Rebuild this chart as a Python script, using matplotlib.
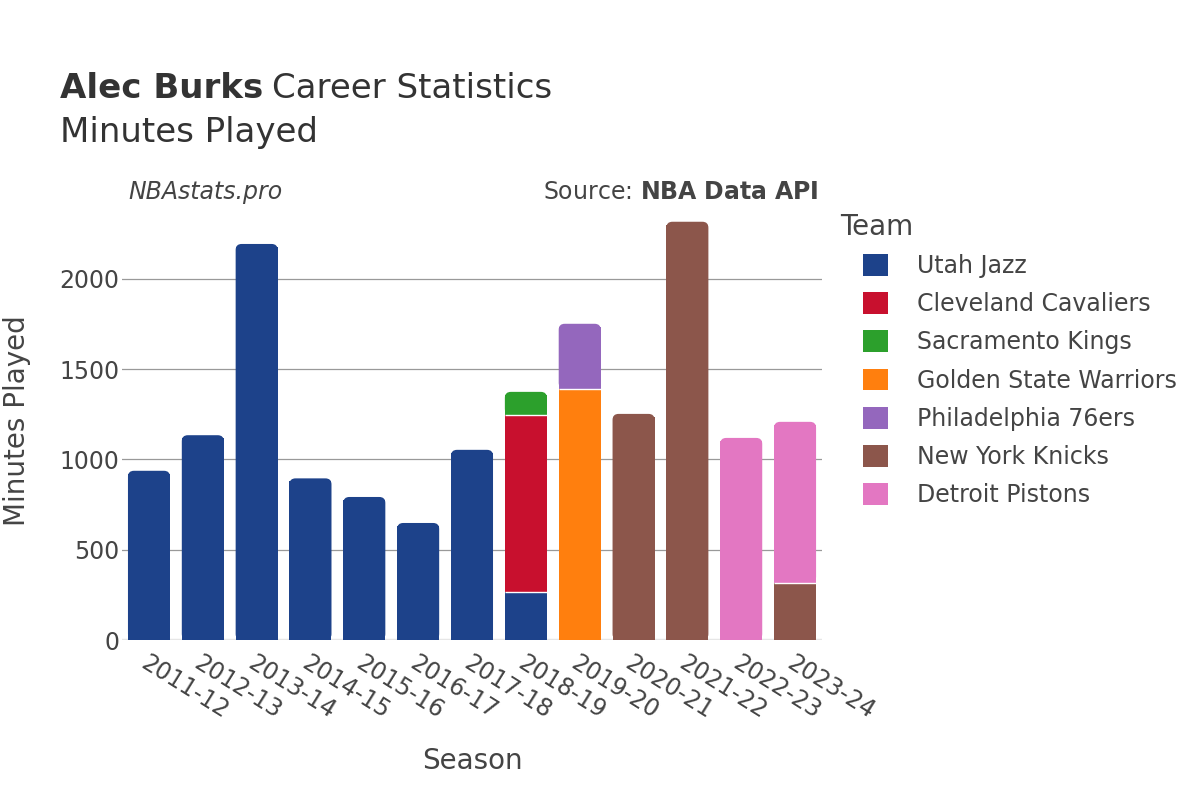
import matplotlib
matplotlib.use("Agg")
import matplotlib.pyplot as plt
from matplotlib.patches import FancyBboxPatch, Patch

seasons = ["2011-12", "2012-13", "2013-14", "2014-15", "2015-16", "2016-17", "2017-18",
           "2018-19", "2019-20", "2020-21", "2021-22", "2022-23", "2023-24"]
teams = ["Utah Jazz", "Cleveland Cavaliers", "Sacramento Kings", "Golden State Warriors",
         "Philadelphia 76ers", "New York Knicks", "Detroit Pistons"]
colors = ["#1d428a", "#c8102e", "#2ca02c", "#ff7f0e", "#9467bd", "#8c564b", "#e377c2"]

utah = [937, 1134, 2193, 895, 792, 648, 1053, 266, 0, 0, 0, 0, 0]
cle = [0, 0, 0, 0, 0, 0, 0, 981, 0, 0, 0, 0, 0]
sac = [0, 0, 0, 0, 0, 0, 0, 127, 0, 0, 0, 0, 0]
gsw = [0, 0, 0, 0, 0, 0, 0, 0, 1391, 0, 0, 0, 0]
phi = [0, 0, 0, 0, 0, 0, 0, 0, 360, 0, 0, 0, 0]
nyk = [0, 0, 0, 0, 0, 0, 0, 0, 0, 1252, 2316, 0, 316]
det = [0, 0, 0, 0, 0, 0, 0, 0, 0, 0, 0, 1119, 892]
series = [utah, cle, sac, gsw, phi, nyk, det]

text_color = "#444444"
plt.rcParams['font.family'] = ['DejaVu Sans']

fig = plt.figure(figsize=(12, 8), dpi=100)
ax = fig.add_axes([0.1017, 0.2, 0.5833, 0.549])

n = len(seasons)
ax.set_xlim(-0.5, n - 0.5)
ymax = 2432
ax.set_ylim(0, ymax)

width = 0.78
px_x = 700 / n
px_y = 439 / ymax
r_px = 6
rx = r_px / px_x
aspect = px_x / px_y
ry = r_px / px_y

for i in range(n):
    bottom = 0
    vals = [s[i] for s in series]
    top_idx = max(j for j, v in enumerate(vals) if v > 0)
    for j, v in enumerate(vals):
        if v <= 0:
            continue
        if j == top_idx:
            rect_h = max(v - ry, 0)
            ax.bar(i, rect_h + ry * 0.5, width=width, bottom=bottom, color=colors[j],
                   edgecolor="none", zorder=3)
            box = FancyBboxPatch((i - width / 2, bottom), width, v,
                                 boxstyle=f"round,pad=0,rounding_size={rx}",
                                 mutation_aspect=aspect, facecolor=colors[j],
                                 edgecolor="none", zorder=3)
            ax.add_patch(box)
        else:
            ax.bar(i, v, width=width, bottom=bottom, color=colors[j],
                   edgecolor="none", zorder=3)
        if bottom > 0:
            ax.plot([i - width / 2, i + width / 2], [bottom, bottom], color="white",
                    lw=1.0, zorder=4, solid_capstyle="butt")
        bottom += v

ax.set_yticks([0, 500, 1000, 1500, 2000])
ax.yaxis.grid(True, color="#999999", lw=0.9, zorder=0)
ax.axhline(0, color="#e6e6e6", lw=2.5, zorder=2)
for s in ax.spines.values():
    s.set_visible(False)
ax.tick_params(axis="both", length=0, labelsize=17, labelcolor=text_color)
ax.tick_params(axis="y", pad=2)
ax.set_xticks(range(n))
ax.set_xticklabels(seasons, rotation=-32, ha="left", va="top", rotation_mode="anchor")
ax.tick_params(axis="x", pad=8)

ax.set_xlabel("Season", fontsize=20, color=text_color)
ax.set_ylabel("Minutes Played", fontsize=20, color=text_color)
ax.xaxis.set_label_coords(0.5, -(761 - 640) / 439, transform=ax.transAxes)
ax.xaxis.label.set_va("center")
ax.yaxis.set_label_coords(-(122 - 17) / 700, 0.5, transform=ax.transAxes)
ax.yaxis.label.set_va("center")

t1 = fig.text(0.05, 0.889, "Alec Burks", fontsize=24.5, fontweight="bold", color="#333333", va="center")
fig.canvas.draw()
bb = t1.get_window_extent()
fig.text(bb.x1 / 1200 + 0.007, 0.889, "Career Statistics", fontsize=24.5, color="#333333", va="center")
fig.text(0.05, 0.834, "Minutes Played", fontsize=24.5, color="#333333", va="center")

fig.text(0.1067, 0.76, "NBAstats.pro", fontsize=17, style="italic", color=text_color, va="center")
fig.text(0.682, 0.76, r"Source: $\bf{NBA\ Data\ API}$", fontsize=17, color=text_color,
         va="center", ha="right")

fig.text(840 / 1200, 1 - 227 / 800, "Team", fontsize=20, color=text_color, va="center", ha="left")

handles = [Patch(facecolor=c, edgecolor="none") for c in colors]
leg = fig.legend(handles, teams, loc="upper left", bbox_to_anchor=(863 / 1200, 1 - 254 / 800),
                 frameon=False, fontsize=17,
                 handlelength=1.05, handleheight=1.05, labelspacing=0.6, handletextpad=1.25,
                 borderaxespad=0, borderpad=0)
for t in leg.get_texts():
    t.set_color(text_color)

fig.savefig("out.png", dpi=100)
